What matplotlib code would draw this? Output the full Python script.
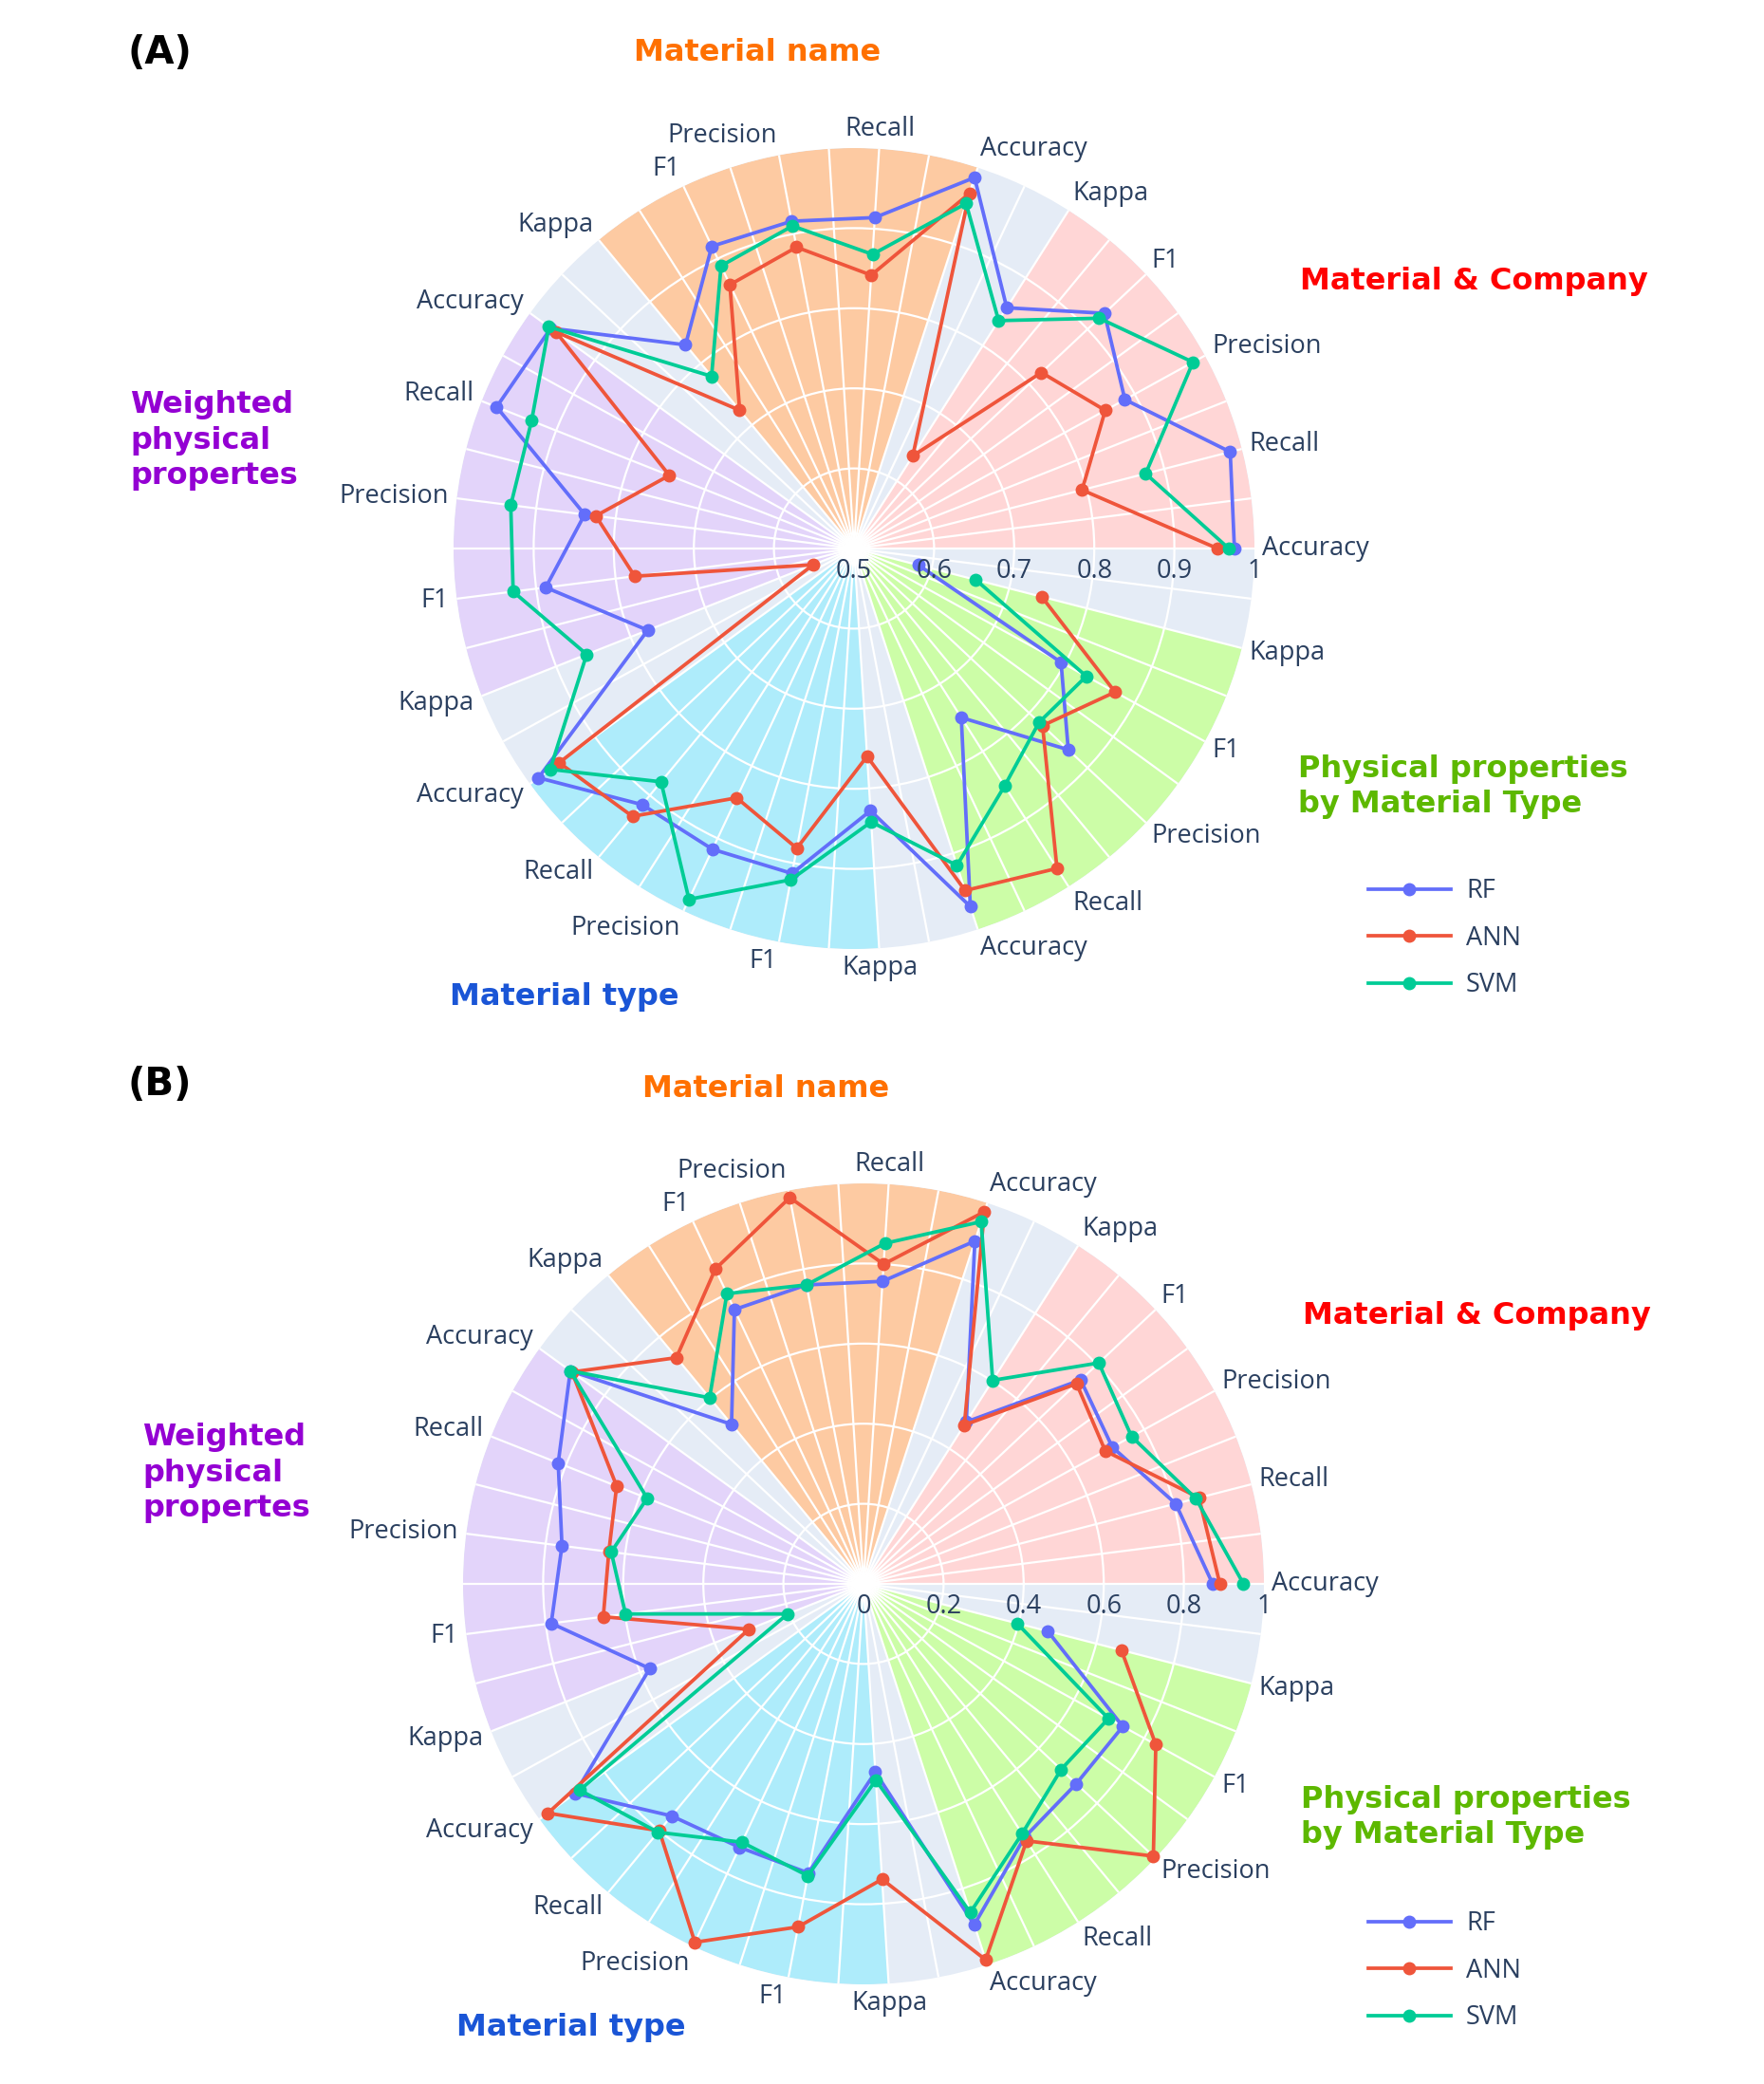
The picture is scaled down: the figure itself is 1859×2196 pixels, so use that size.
import numpy as np
import matplotlib.pyplot as plt

W, H = 1859, 2196

metrics = ['Accuracy', 'Recall', 'Precision', 'F1', 'Kappa']
group_names = ['Material & Company', 'Material name', 'Weighted\nphysical\npropertes',
               'Material type', 'Physical properties\nby Material Type']
group_fill = ['#FFD6D6', '#FDCAA2', '#E3D4FA', '#AEECFB', '#CCFDA7']
group_text = ['#FF0000', '#FF7000', '#9400D3', '#1A55D6', '#5DB800']
models = ['RF', 'ANN', 'SVM']
model_colors = ['#636EFA', '#EF553B', '#00CC96']

# panel (A): 5 groups x 5 metrics, counter-clockwise from the right
rf_a = [0.975, 0.985, 0.886, 0.929, 0.856,
        0.987, 0.914, 0.916, 0.917, 0.830,
        0.968, 0.980, 0.839, 0.888, 0.777,
        0.987, 0.915, 0.915, 0.913, 0.828,
        0.970, 0.750, 0.867, 0.795, 0.583]
ann_a = [0.954, 0.794, 0.858, 0.821, 0.637,
         0.966, 0.842, 0.883, 0.864, 0.724,
         0.960, 0.748, 0.825, 0.776, 0.555,
         0.955, 0.934, 0.844, 0.881, 0.760,
         0.949, 0.973, 0.823, 0.872, 0.742]
svm_a = [0.968, 0.876, 0.983, 0.920, 0.837,
         0.953, 0.868, 0.910, 0.890, 0.779,
         0.971, 0.933, 0.932, 0.929, 0.859,
         0.969, 0.878, 0.984, 0.921, 0.842,
         0.916, 0.851, 0.817, 0.831, 0.657]

# panel (B)
rf_b = [0.872, 0.805, 0.709, 0.744, 0.479,
        0.900, 0.757, 0.760, 0.757, 0.517,
        0.905, 0.820, 0.759, 0.786, 0.574,
        0.890, 0.752, 0.727, 0.735, 0.471,
        0.895, 0.750, 0.729, 0.739, 0.475]
ann_b = [0.890, 0.865, 0.689, 0.730, 0.470,
         0.977, 0.800, 0.982, 0.869, 0.733,
         0.900, 0.663, 0.641, 0.655, 0.308,
         0.974, 0.800, 0.989, 0.872, 0.739,
         0.987, 0.760, 0.993, 0.833, 0.665]
svm_b = [0.949, 0.857, 0.764, 0.806, 0.602,
         0.951, 0.852, 0.760, 0.801, 0.603,
         0.905, 0.581, 0.635, 0.599, 0.204,
         0.876, 0.805, 0.713, 0.742, 0.491,
         0.863, 0.739, 0.677, 0.698, 0.396]

ticks_a = [0.5, 0.6, 0.7, 0.8, 0.9, 1]
ticks_b = [0, 0.2, 0.4, 0.6, 0.8, 1]

cats = metrics * len(group_names)
theta = np.arange(len(cats)) * 2 * np.pi / len(cats)
step = 2 * np.pi / len(cats)

FS = 19.5
TXT = '#2a3f5f'


def radar(ax, series, ticks):
    rmin, rmax = ticks[0], ticks[-1]
    ax.set_facecolor('#E5ECF6')
    ax.set_ylim(rmin, rmax)
    ax.spines['polar'].set_visible(False)
    for g in range(len(group_names)):
        ax.bar(theta[5 * g], rmax - rmin, width=4 * step, bottom=rmin, align='edge',
               color=group_fill[g], linewidth=0, zorder=1)
    ax.set_xticks(np.arange(2 * len(cats)) * step / 2)
    ax.set_xticklabels([])
    ax.set_yticks(ticks[1:-1])
    ax.set_yticklabels([])
    ax.tick_params(length=0)
    ax.set_axisbelow('line')
    ax.grid(color='white', linewidth=1.6)

    lines = []
    for name, vals, c in zip(models, series, model_colors):
        ln, = ax.plot(theta, vals, '-o', color=c, lw=2.7, ms=9, label=name,
                      zorder=3, clip_on=False)
        lines.append(ln)

    # category labels around the rim
    pad = 6
    for t, lab in zip(theta, cats):
        c, s = np.cos(t), np.sin(t)
        ha = 'center' if abs(c) < 0.1 else ('left' if c > 0 else 'right')
        ax.annotate(lab, xy=(t, rmax), xytext=(pad * c, pad * s + s * FS * 0.45),
                    textcoords='offset points', ha=ha, va='center',
                    fontsize=FS, color=TXT, family='Open Sans', annotation_clip=False)
    # radial tick labels along the 0 degree line
    for r in ticks:
        ax.annotate('{:g}'.format(r), xy=(0, r), xytext=(0, -7), textcoords='offset points',
                    ha='center', va='top', fontsize=FS, color=TXT, family='Open Sans',
                    annotation_clip=False, zorder=4)
    return lines


def fig_xy(x, y):
    return x / W, 1 - y / H


fig = plt.figure(figsize=(W / 100, H / 100), dpi=100)
R = 422
panels = [
    dict(tag='(A)', cx=900, cy=578, series=(rf_a, ann_a, svm_a), ticks=ticks_a,
         tag_xy=(168, 56),
         title_xy=[(1553, 297), (798, 56), (137, 464), (595, 1050), (1368, 829)],
         legend_top=925),
    dict(tag='(B)', cx=910, cy=1669, series=(rf_b, ann_b, svm_b), ticks=ticks_b,
         tag_xy=(168, 1143),
         title_xy=[(1556, 1386), (807, 1147), (150, 1552), (602, 2136), (1371, 1915)],
         legend_top=2013),
]

for p in panels:
    ax = fig.add_axes([(p['cx'] - R) / W, 1 - (p['cy'] + R) / H, 2 * R / W, 2 * R / H],
                      projection='polar')
    lines = radar(ax, p['series'], p['ticks'])

    x, y = fig_xy(*p['tag_xy'])
    fig.text(x, y, p['tag'], fontsize=29, fontweight='bold', family='DejaVu Sans',
             ha='center', va='center', color='black')
    for g, name in enumerate(group_names):
        x, y = fig_xy(*p['title_xy'][g])
        ha = 'left' if g in (2, 4) else 'center'
        fig.text(x, y, name, fontsize=23, fontweight='heavy', family='DejaVu Sans',
                 color=group_text[g], ha=ha, va='center', linespacing=1.27)

    fig.legend(lines, models, loc='upper left', bbox_to_anchor=fig_xy(1442, p['legend_top']),
               frameon=False, borderpad=0, borderaxespad=0, handlelength=3.2,
               handletextpad=0.6, labelspacing=0.8,
               prop={'family': 'Open Sans', 'size': FS}, labelcolor=TXT)

fig.savefig('out.png', dpi=100, facecolor='white')
